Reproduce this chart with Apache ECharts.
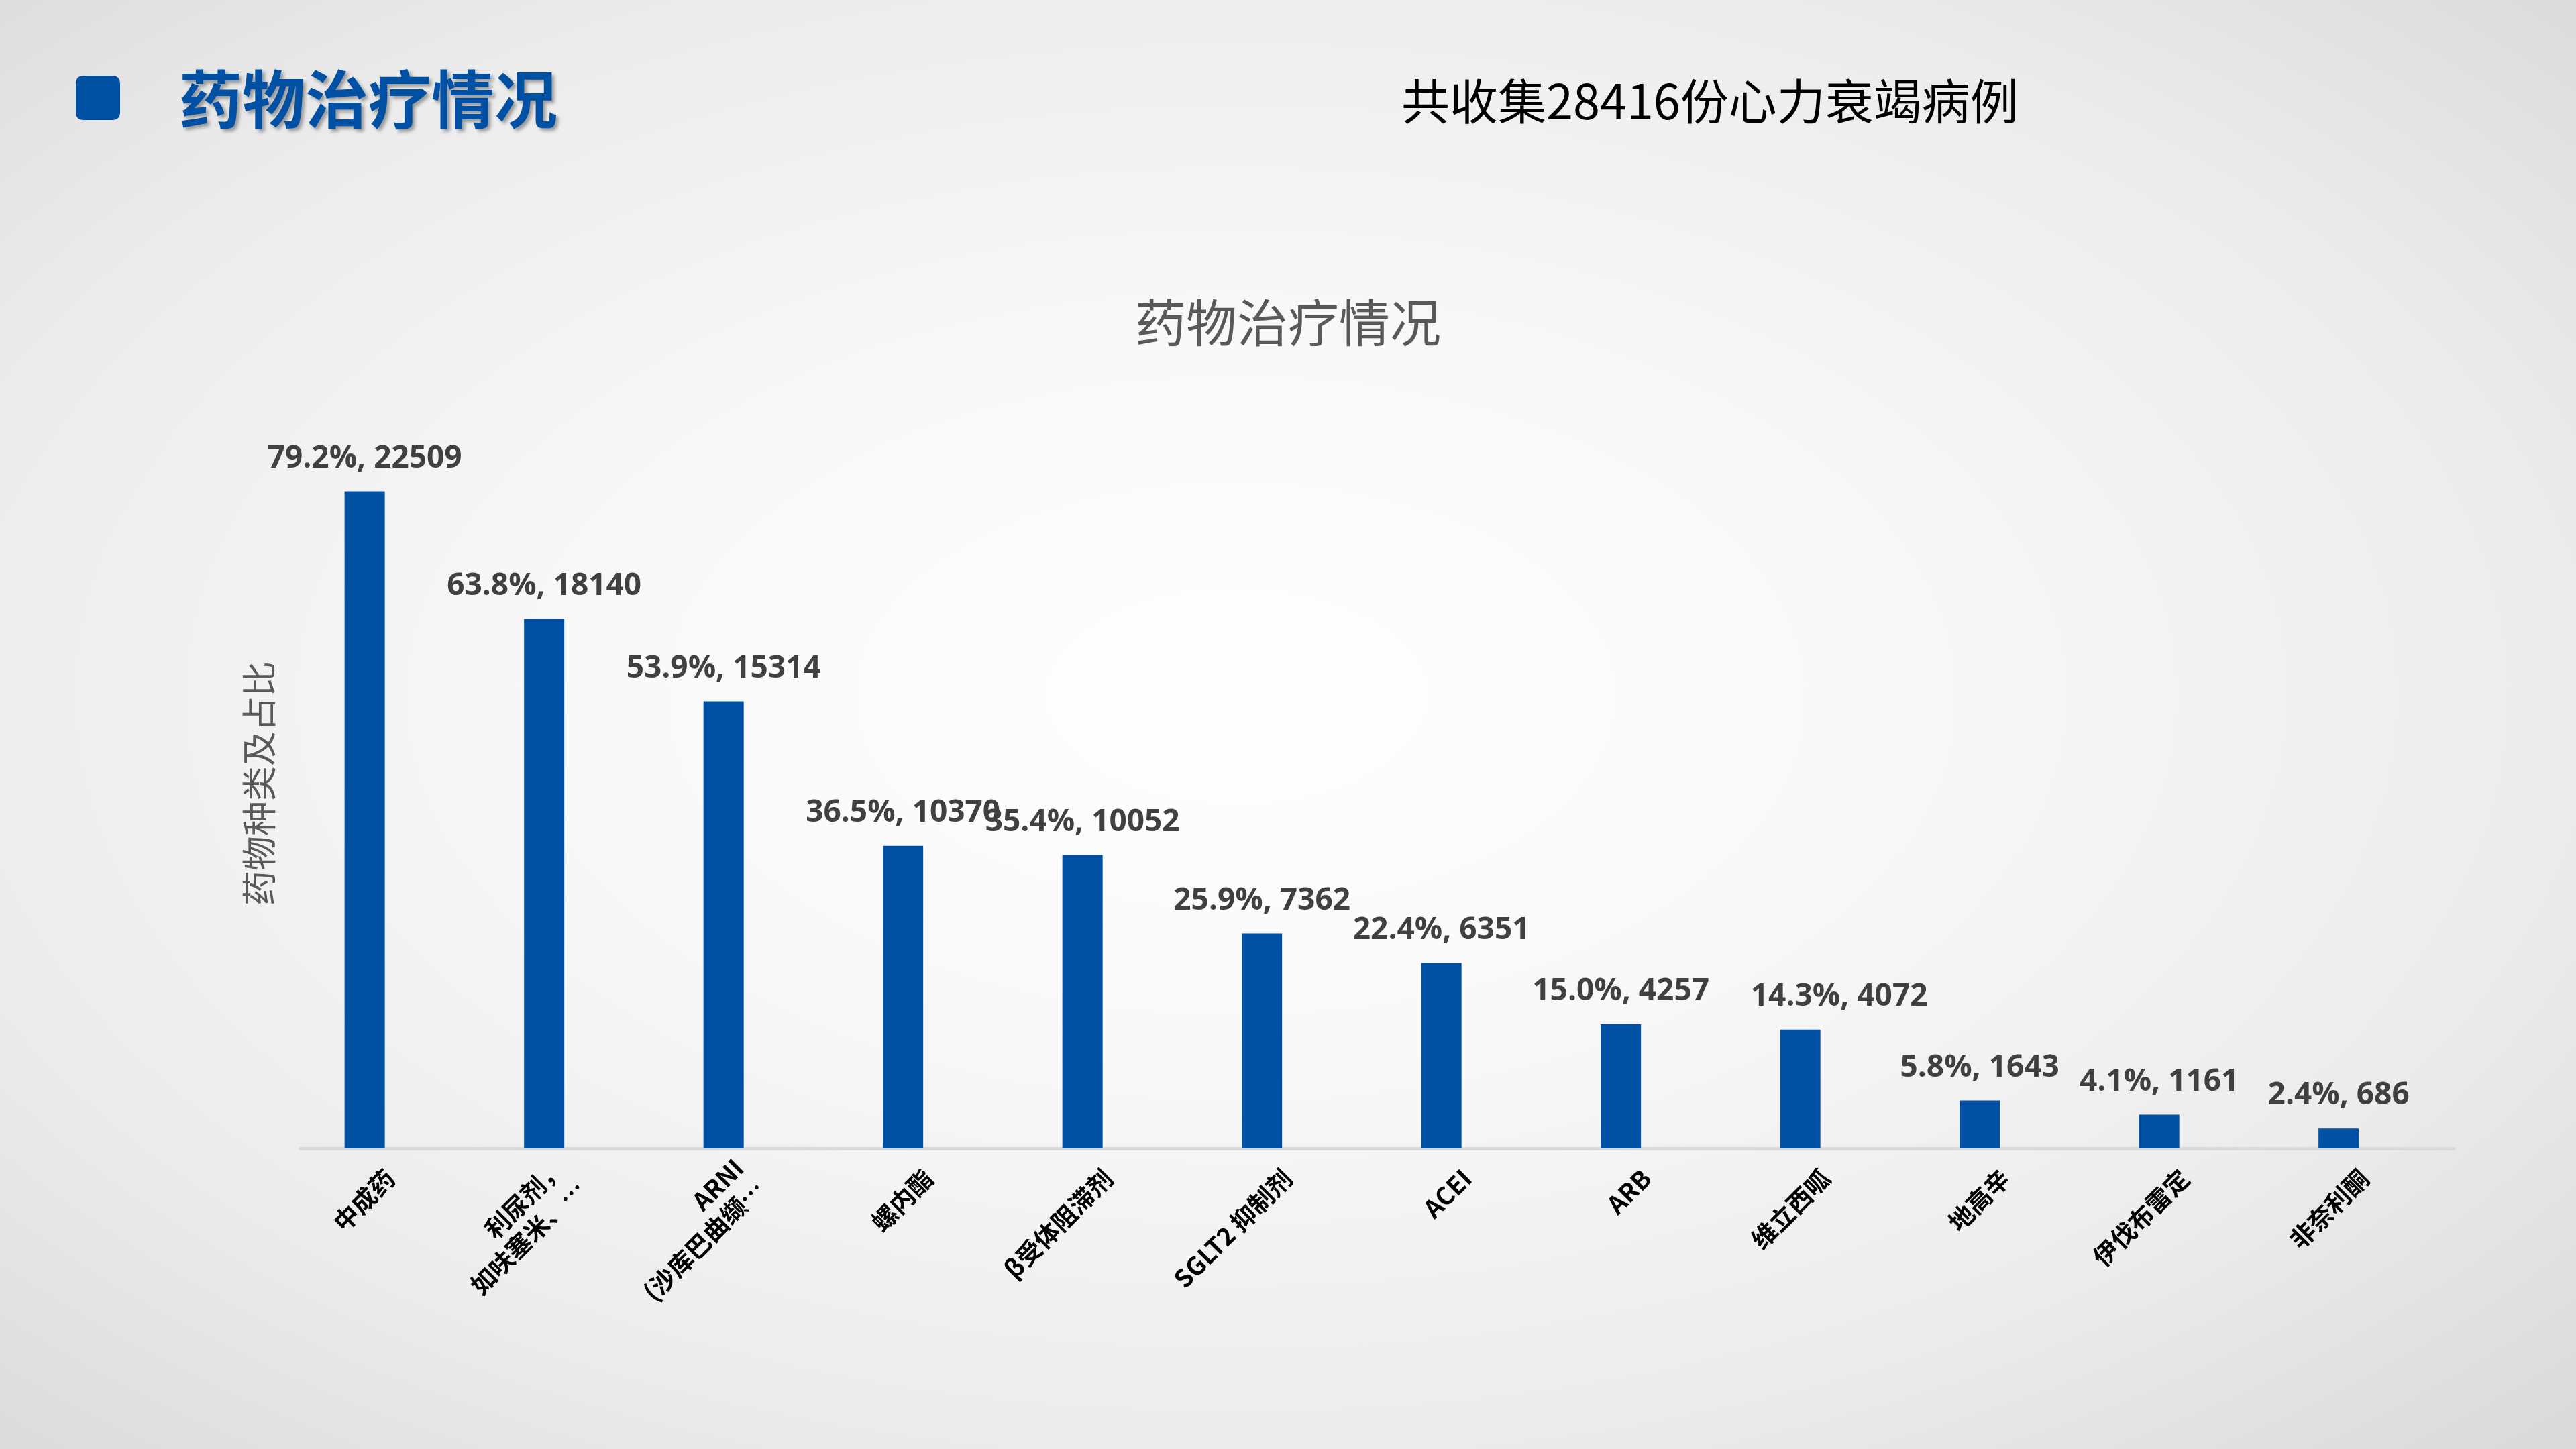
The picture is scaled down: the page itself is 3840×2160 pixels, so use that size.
<!DOCTYPE html>
<html>
<head>
<meta charset="utf-8">
<title>药物治疗情况</title>
<script src="https://cdn.jsdelivr.net/npm/echarts@6/dist/echarts.min.js"></script>
<style>
    html, body { margin: 0; padding: 0; }
    #main {
        width: 3840px;
        height: 2160px;
        background: radial-gradient(ellipse at 48% 48%, #ffffff 0%, #f8f8f8 35%, #ececec 70%, #d9d9d9 100%);
    }
</style>
</head>
<body>
<div id="main"></div>
<script>
    // 药物种类
    var categories = ['中成药', '利尿剂，\n如呋塞米、…', 'ARNI\n(沙库巴曲缬…', '螺内酯', 'β受体阻滞剂',
        'SGLT2 抑制剂', 'ACEI', 'ARB', '维立西呱', '地高辛', '伊伐布雷定', '非奈利酮'];
    // 病例数
    var counts = [22509, 18140, 15314, 10370, 10052, 7362, 6351, 4257, 4072, 1643, 1161, 686];
    // 占比 (%)
    var percents = [79.2, 63.8, 53.9, 36.5, 35.4, 25.9, 22.4, 15.0, 14.3, 5.8, 4.1, 2.4];
    var totalCases = 28416;

    var barColor = '#0050A4';
    var cjkFont = '"Noto Sans CJK SC", "Noto Sans", sans-serif';

    // 柱子数据，维立西呱的标签向右挪一点，避免和左边重叠
    var barData = [];
    for (var i = 0; i < counts.length; i++) {
        var item = { value: counts[i] };
        if (i === 8) {
            item.label = { offset: [58, 0] };
        }
        barData.push(item);
    }

    var chart = echarts.init(document.getElementById('main'));

    var option = {
        backgroundColor: 'transparent',
        animation: false,
        title: [{
            text: '药物治疗情况',
            left: 262,
            top: 96,
            textStyle: {
                fontFamily: cjkFont,
                fontSize: 94,
                fontWeight: 'bold',
                color: barColor,
                textShadowColor: 'rgba(0, 0, 0, 0.35)',
                textShadowBlur: 5,
                textShadowOffsetX: 4,
                textShadowOffsetY: 4
            }
        }, {
            text: '共收集' + totalCases + '份心力衰竭病例',
            left: 2084,
            top: 110,
            textStyle: {
                fontFamily: cjkFont,
                fontSize: 72,
                fontWeight: 'normal',
                color: '#000000'
            }
        }, {
            text: '药物治疗情况',
            left: 'center',
            top: 438,
            textStyle: {
                fontFamily: cjkFont,
                fontSize: 76,
                fontWeight: 'normal',
                color: '#595959'
            }
        }],
        graphic: [{
            type: 'rect',
            left: 113,
            top: 113,
            shape: { width: 66, height: 66, r: 10 },
            style: { fill: barColor }
        }],
        grid: {
            left: 448,
            right: 182,
            top: 624,
            bottom: 448
        },
        xAxis: {
            type: 'category',
            data: categories,
            axisLine: { lineStyle: { color: '#d9d9d9', width: 5 } },
            axisTick: { show: false },
            axisLabel: {
                interval: 0,
                rotate: 45,
                margin: 38,
                fontFamily: cjkFont,
                fontSize: 37,
                fontWeight: 'bold',
                lineHeight: 44,
                color: '#000000'
            }
        },
        yAxis: {
            type: 'value',
            min: 0,
            max: 25000,
            name: '药物种类及占比',
            nameLocation: 'middle',
            nameGap: 36,
            nameTextStyle: {
                fontFamily: cjkFont,
                fontSize: 52,
                color: '#595959'
            },
            axisLine: { show: false },
            axisTick: { show: false },
            axisLabel: { show: false },
            splitLine: { show: false }
        },
        series: [{
            type: 'bar',
            data: barData,
            barWidth: 60,
            barGap: '27%',
            itemStyle: { color: barColor },
            label: {
                show: true,
                position: 'top',
                distance: 26,
                fontFamily: '"Open Sans", "Noto Sans", sans-serif',
                fontSize: 46,
                fontWeight: 'bold',
                color: '#404040',
                formatter: function (p) {
                    return percents[p.dataIndex].toFixed(1) + '%, ' + p.value;
                }
            }
        }, {
            // 占位系列，使柱子偏左
            type: 'bar',
            data: counts.map(function () { return null; }),
            barWidth: 60,
            itemStyle: { color: 'transparent' }
        }]
    };

    chart.setOption(option);
</script>
</body>
</html>
